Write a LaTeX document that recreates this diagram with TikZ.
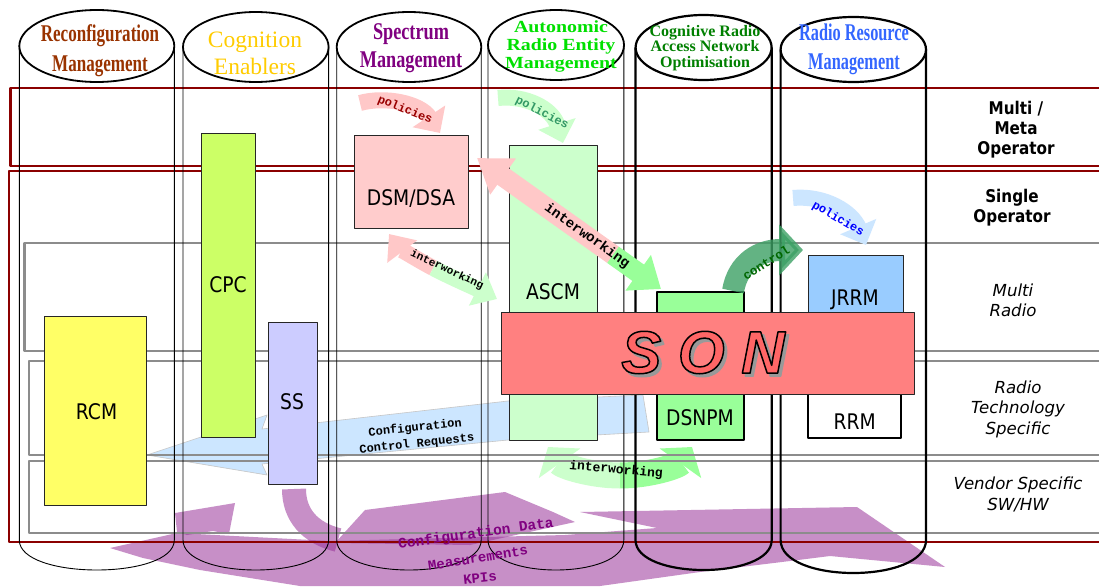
\documentclass[tikz,border=0pt]{standalone}
\usepackage{fontspec}
\setmainfont{Liberation Serif}
\newfontfamily\hdA[FakeStretch=0.71]{Liberation Serif}
\newfontfamily\hdB[FakeStretch=0.76]{Liberation Serif}
\newfontfamily\hdC[FakeStretch=0.68]{Liberation Serif}
\newfontfamily\hdD[FakeStretch=1.17]{Liberation Serif}
\newfontfamily\bxfont[FakeStretch=0.87]{DejaVu Sans}
\newfontfamily\lbfont{DejaVu Sans}
\newfontfamily\ttfont{Liberation Mono}
\newfontfamily\sonfont[FakeBold=2.5]{Liberation Sans}
\usetikzlibrary{arrows.meta}

\definecolor{bandred}{HTML}{8B0000}
\definecolor{bandgray}{HTML}{8C8C8C}
\definecolor{cRCM}{HTML}{FFFF66}
\definecolor{cCPC}{HTML}{CCFF66}
\definecolor{cSS}{HTML}{CCCCFF}
\definecolor{cDSM}{HTML}{FFCCCC}
\definecolor{cASCM}{HTML}{CCFFCC}
\definecolor{cDSNPM}{HTML}{99FF99}
\definecolor{cJRRM}{HTML}{99CCFF}
\definecolor{cSON}{HTML}{FF8080}
\definecolor{cSONtxt}{HTML}{FF6666}
\definecolor{apink}{HTML}{FFC8C8}
\definecolor{agreenl}{HTML}{CCFFCC}
\definecolor{agreen}{HTML}{99FF99}
\definecolor{ablue}{HTML}{CCE6FF}
\definecolor{actrl}{HTML}{3CA064}
\definecolor{apurple}{HTML}{993399}
\definecolor{tpurple}{HTML}{800080}
\definecolor{hBrown}{HTML}{993300}
\definecolor{hGold}{HTML}{FFCC00}
\definecolor{hPurple}{HTML}{800080}
\definecolor{hGreen}{HTML}{00E000}
\definecolor{hDGreen}{HTML}{008000}
\definecolor{hBlue}{HTML}{3366FF}
\definecolor{tred}{HTML}{990000}
\definecolor{tgreen}{HTML}{339966}
\definecolor{tctrl}{HTML}{006600}

\tikzset{
  thincol/.style={draw=black, line width=0.9pt},
  thickcol/.style={draw=black, line width=2.2pt},
  hdell/.style={draw=black, line width=1.8pt, fill=white},
  hdellthick/.style={draw=black, line width=2.2pt, fill=white},
  redband/.style={draw=bandred, line width=2.6pt},
  grayband/.style={draw=bandgray, line width=2.6pt},
  box/.style={rectangle, draw=black!85, line width=0.8pt, inner sep=0pt, anchor=north west},
  boxthick/.style={box, draw=black, line width=1.8pt},
  boxlabel/.style={font=\bxfont\fontsize{21.5}{24}\selectfont, inner sep=0pt, text height=15.5pt, text depth=0pt},
  hdr/.style={align=center, inner sep=0pt},
  arrlabel/.style={font=\ttfont\bfseries\fontsize{12}{12}\selectfont, inner sep=0pt},
  rlabb/.style={align=center, inner sep=0pt, font=\bxfont\bfseries\fontsize{17.5}{20}\selectfont},
  rlabi/.style={align=center, inner sep=0pt, font=\lbfont\itshape\fontsize{16.6}{20.5}\selectfont},
  fatarrow/.style n args={4}{draw=#1, line width=#2, -{Triangle[width=#3,length=#4]}},
  sontext/.style={inner sep=0pt, font=\sonfont\bfseries\itshape\fontsize{60}{60}\selectfont},
  purpleflow/.style={draw=apurple, draw opacity=0.55, line width=#1},
}

\begin{document}
\begin{tikzpicture}[x=1pt,y=-1pt,line join=round]
\useasboundingbox (0,0) rectangle (1099,586);
\fill[white] (0,0) rectangle (1099,586);

% ---------- purple configuration data / measurements / KPIs flows
\begin{scope}[fill=apurple, fill opacity=0.55]
  \fill (110,548) -- (177,533) -- (330,541) -- (565,535) -- (657,528) -- (580,512) -- (857,507) -- (945,567) -- (830,556) -- (790,561) -- (700,572) -- (600,586) -- (300,586) -- (200,570) -- (143,558) -- cycle;
  \fill (335,543) -- (365,510) -- (505,492) -- (553,512) -- (575,522) -- (470,545) -- cycle;
  \fill (175,513) -- (235,503) -- (229,534) -- (213,531) -- (187,535) -- (177,532) -- cycle;
\end{scope}
\coordinate (ssflowS) at (294,489);
\coordinate (ssflowE) at (338,540);
\draw[purpleflow=24pt] (ssflowS) .. controls (294,515) and (310,533) .. (ssflowE);

% ---------- configuration control requests arrow
\filldraw[fill=ablue, draw=gray!45, line width=0.6pt] (147,455) -- (267,415) -- (262,429) -- (508,401) -- (643,395) -- (649,432) -- (508,440) -- (262,464) -- (267,475) -- cycle;

% ---------- bottom interworking arrow (under the columns)
\coordinate (biL) at (548,447);
\coordinate (biR) at (692,447);
\coordinate (biM) at (620,475.5);
\draw[fatarrow={agreenl}{26pt}{50pt}{20pt}] (biM) .. controls (590.75,475.5) and (561.5,466) .. (biL);
\draw[fatarrow={agreen}{26pt}{50pt}{20pt}] (biM) .. controls (649.25,475.5) and (678.5,466) .. (biR);

% ---------- bands
\draw[redband] (1110,88) -- (10.5,88) -- (10.5,166) -- (1110,166);
\draw[redband] (1110,171) -- (8.8,171) -- (8.8,542) -- (1110,542);
\draw[grayband] (1110,243) -- (24.6,243) -- (24.6,351) -- (1110,351);
\draw[grayband] (1110,361) -- (29,361) -- (29,455) -- (1110,455);
\draw[grayband] (1110,461) -- (29,461) -- (29,533) -- (1110,533);

% ---------- columns (cylinders)
\draw[thincol] (19.3,46) -- (19.3,540) .. controls (19.3,580) and (174.3,580) .. (174.3,540) -- (174.3,46);
\draw[thincol] (183,47) -- (183,540) .. controls (183,580) and (328.6,580) .. (328.6,540) -- (328.6,47);
\draw[thincol] (336.7,47) -- (336.7,540) .. controls (336.7,580) and (481.2,580) .. (481.2,540) -- (481.2,47);
\draw[thincol] (488,45) -- (488,540) .. controls (488,580) and (623.8,580) .. (623.8,540) -- (623.8,45);
\draw[thickcol] (635.5,47.5) -- (635.5,540) .. controls (635.5,580) and (771.7,580) .. (771.7,540) -- (771.7,47.5);
\draw[thickcol] (780.6,49.5) -- (780.6,540) .. controls (780.6,584) and (926,584) .. (926,540) -- (926,49.5);

\filldraw[hdell] (96.8,46) ellipse [x radius=77.5, y radius=36];
\filldraw[hdell] (255.8,47) ellipse [x radius=72.8, y radius=35];
\filldraw[hdell] (409,47) ellipse [x radius=72.3, y radius=35];
\filldraw[hdell] (556,45) ellipse [x radius=68, y radius=35];
\filldraw[hdellthick] (703.6,47.5) ellipse [x radius=68, y radius=32.5];
\filldraw[hdellthick] (853.3,49.5) ellipse [x radius=72.7, y radius=32.5];

\node[hdr, text=hBrown, font=\hdA\bfseries\fontsize{24}{30}\selectfont] (h1) at (100,51) {Reconfiguration\\Management};
\node[hdr, text=hGold, font=\fontsize{23.5}{27}\selectfont] (h2) at (255,53) {Cognition\\Enablers};
\node[hdr, text=hPurple, font=\hdB\bfseries\fontsize{24}{28}\selectfont] (h3) at (411,48.5) {Spectrum\\Management};
\node[hdr, text=hGreen, font=\hdD\bfseries\fontsize{17}{18}\selectfont] (h4) at (561,46) {Autonomic\\Radio Entity\\Management};
\node[hdr, text=hDGreen, font=\bfseries\fontsize{16}{15.5}\selectfont] (h5) at (705,48) {Cognitive Radio\\Access Network\\Optimisation};
\node[hdr, text=hBlue, font=\hdC\bfseries\fontsize{24}{29}\selectfont] (h6) at (854,49) {Radio Resource\\Management};

% ---------- boxes
\node[box, fill=cRCM, minimum width=102pt, minimum height=189pt] (rcm) at (44,316) {};
\node[box, fill=cCPC, minimum width=54pt, minimum height=304pt] (cpc) at (201,133) {};
\node[box, fill=cSS, minimum width=49pt, minimum height=162pt] (ss) at (267.6,322) {};
\node[box, fill=cDSM, minimum width=114pt, minimum height=93pt] (dsm) at (354,135) {};
\node[box, fill=cASCM, minimum width=88.4pt, minimum height=295pt] (ascm) at (508.6,145) {};
\node[boxthick, fill=cDSNPM, minimum width=87pt, minimum height=148pt] (dsnpm) at (656,291) {};
\node[box, fill=cJRRM, minimum width=94.6pt, minimum height=75pt] (jrrm) at (808,255) {};
\node[boxthick, fill=white, minimum width=92.6pt, minimum height=57pt] (rrm) at (807.4,380) {};
\node[box, fill=cSON, minimum width=413.5pt, minimum height=82pt] (son) at (500.5,312) {};

\node[boxlabel] (rcml) at (96.5,412) {RCM};
\node[boxlabel] (cpcl) at (228,285) {CPC};
\node[boxlabel] (ssl) at (292,402) {SS};
\node[boxlabel] (dsml) at (411,198) {DSM/DSA};
\node[boxlabel] (ascml) at (553,292) {ASCM};
\node[boxlabel] (dsnpml) at (700,418) {DSNPM};
\node[boxlabel] (jrrml) at (855,298) {JRRM};
\node[boxlabel] (rrml) at (854.6,421.7) {RRM};

% SON lettering: gray shadow, then salmon letters stroked in black
\node[sontext, text=cSONtxt] (sonl) at (703,354) {\rlap{\hspace{3pt}\raisebox{-3pt}{\color{black!40}S O N}}\special{pdf:literal direct 0 0 0 RG}S O N};

% ---------- labels of the bottom flows
\node[hdr, font=\ttfont\bfseries\fontsize{12}{16}\selectfont, rotate=6] (ccrl) at (416,436) {Configuration\\Control Requests};
\node[arrlabel, font=\ttfont\bfseries\fontsize{13}{13}\selectfont, rotate=-5] (bil) at (616,470) {interworking};
\node[arrlabel, text=tpurple, font=\ttfont\bfseries\fontsize{14.5}{14.5}\selectfont, rotate=8] (cdl) at (476,534) {Configuration Data};
\node[arrlabel, text=tpurple, font=\ttfont\bfseries\fontsize{14}{14}\selectfont, rotate=9] (msl) at (478,558) {Measurements};
\node[arrlabel, text=tpurple, font=\ttfont\bfseries\fontsize{14}{14}\selectfont, rotate=6] (kpl) at (480,578) {KPIs};

% ---------- fat arrows
% policies (spectrum)
\coordinate (p1s) at (360,103);
\coordinate (p1e) at (440,133);
\draw[fatarrow={apink}{16pt}{38pt}{20pt}] (p1s) .. controls (385,96) and (420,103) .. (p1e);
\node[arrlabel, text=tred, rotate=-22] (p1l) at (405,110) {policies};
% policies (ASCM)
\coordinate (p2s) at (498,98);
\coordinate (p2e) at (563,143);
\draw[fatarrow={agreenl}{16pt}{38pt}{20pt}] (p2s) .. controls (525,95) and (552,108) .. (p2e);
\node[arrlabel, text=tgreen, rotate=-27] (p2l) at (542,113) {policies};
% policies (RRM)
\coordinate (p3s) at (793,198);
\coordinate (p3e) at (866,245);
\draw[fatarrow={ablue}{16pt}{38pt}{20pt}] (p3s) .. controls (825,195) and (852,212) .. (p3e);
\node[arrlabel, text=blue, rotate=-30] (p3l) at (838,219) {policies};
% diagonal interworking DSM/DSA <-> DSNPM
\coordinate (diP) at (477,158);
\coordinate (diG) at (661,289);
\coordinate (diM) at (613,254.8);
\draw[fatarrow={apink}{20pt}{42pt}{32pt}] (diM) -- (diP);
\draw[fatarrow={agreen}{20pt}{42pt}{28pt}] (diM) -- (diG);
\node[arrlabel, font=\ttfont\bfseries\fontsize{14}{14}\selectfont, rotate=-35.4] (dil) at (587,236) {interworking};
% small interworking DSM/DSA <-> ASCM
\coordinate (siP) at (389,234);
\coordinate (siG) at (497,299);
\coordinate (siM) at (433.2,268);
\draw[fatarrow={apink}{16pt}{36pt}{22pt}] (siM) .. controls (414.75,258.25) and (399.5,248) .. (siP);
\draw[fatarrow={agreenl}{16pt}{36pt}{22pt}] (siM) .. controls (451.75,277.75) and (473.5,287) .. (siG);
\node[arrlabel, font=\ttfont\bfseries\fontsize{11}{11}\selectfont, rotate=-25] (sil) at (447,270) {interworking};
% control DSNPM -> JRRM
\coordinate (cts) at (733,291);
\coordinate (cte) at (803,250);
\draw[fatarrow={actrl}{22pt}{50pt}{24pt}, opacity=0.8] (cts) .. controls (738,262) and (760,250) .. (cte);
\node[arrlabel, text=tctrl, font=\ttfont\bfseries\fontsize{12.5}{12.5}\selectfont, rotate=32] (ctl) at (766,263) {control};

% ---------- band labels
\node[rlabb] (lmm) at (1016,129.5) {Multi /\\Meta\\Operator};
\node[rlabb] (lso) at (1012,207.5) {Single\\Operator};
\node[rlabi] (lmr) at (1013,300.5) {Multi\\Radio};
\node[rlabi] (lrt) at (1018,409) {Radio\\Technology\\Specific};
\node[rlabi] (lvs) at (1018,494.5) {Vendor Specific\\SW/HW};
\end{tikzpicture}
\end{document}
